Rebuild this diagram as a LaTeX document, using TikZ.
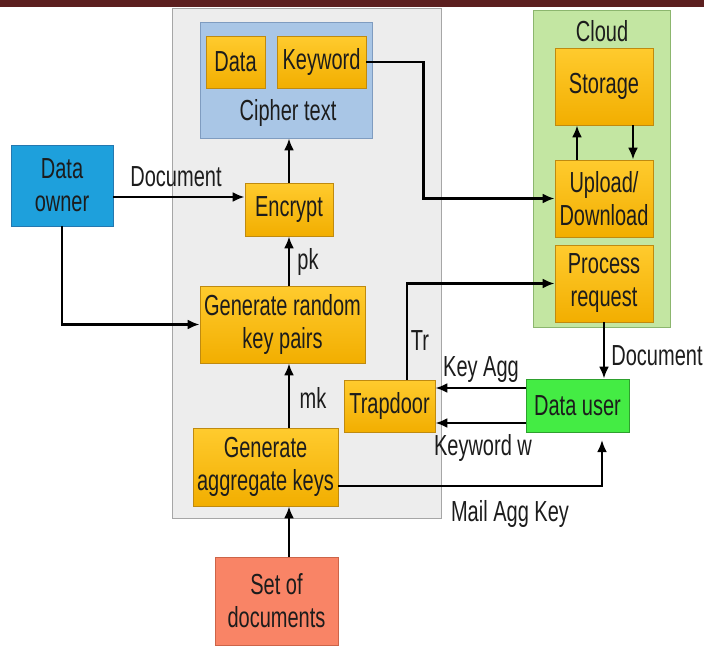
\documentclass[tikz,border=0pt]{standalone}
\usepackage{fontspec}
\setmainfont{Liberation Sans}[FakeStretch=0.69]
\usetikzlibrary{arrows.meta}

\definecolor{barcol}{HTML}{5C1F1F}
\definecolor{graybg}{HTML}{EDEDED}
\definecolor{grayline}{HTML}{A6A6A6}
\definecolor{cipherbg}{HTML}{A9C6E6}
\definecolor{cipherline}{HTML}{7F9CC0}
\definecolor{cloudbg}{HTML}{C3E6A2}
\definecolor{cloudline}{HTML}{8CB66E}
\definecolor{orangetop}{HTML}{FFCB2E}
\definecolor{orangebot}{HTML}{F2AE00}
\definecolor{orangeline}{HTML}{BF8A10}
\definecolor{ownerbg}{HTML}{1EA0DC}
\definecolor{ownerline}{HTML}{2478B0}
\definecolor{userbg}{HTML}{44EC44}
\definecolor{userline}{HTML}{2EA02E}
\definecolor{docbg}{HTML}{F98466}
\definecolor{docline}{HTML}{CC6448}
\definecolor{txtcol}{HTML}{1C1C1C}

\begin{document}
\begin{tikzpicture}[x=1pt,y=-1pt,
 font=\fontsize{29}{33}\selectfont,text=txtcol,
 every node/.style={inner sep=0pt,align=center},
 area/.style={line width=0.8pt},
 obox/.style={draw=orangeline,line width=0.8pt,top color=orangetop,bottom color=orangebot},
 arr/.style={-{Latex[length=12pt,width=10pt]},line width=2.4pt}]
\useasboundingbox (0,0) rectangle (704,646);
\fill[barcol] (0,0) rectangle (704,7);

% containers
\node[area,fill=graybg,draw=grayline,minimum width=269pt,minimum height=510pt] (keygen) at (306.5,263) {};
\node[area,fill=cloudbg,draw=cloudline,minimum width=137pt,minimum height=317pt] (cloud) at (601.5,168.5) {};
\node (cloudlbl) at (602,31) {Cloud};
\node[area,fill=cipherbg,draw=cipherline,minimum width=172pt,minimum height=116pt] (cipher) at (286,80) {};
\node (cipherlbl) at (288,113) {Cipher text};

% boxes
\node[obox,minimum width=59pt,minimum height=52pt] (data) at (235.5,62) {Data};
\node[obox,minimum width=89pt,minimum height=52pt] (keyword) at (321.5,62) {Keyword};
\node[obox,minimum width=88pt,minimum height=53pt] (encrypt) at (289,209.5) {Encrypt};
\node[obox,minimum width=165pt,minimum height=77pt] (genrand) at (282.5,324.5) {Generate random\\key pairs};
\node[obox,minimum width=145pt,minimum height=78pt] (genagg) at (265.5,467) {Generate\\aggregate keys};
\node[obox,minimum width=91pt,minimum height=52pt] (trapdoor) at (389.5,406) {Trapdoor};
\node[obox,minimum width=98pt,minimum height=77pt] (storage) at (604,86.5) {Storage};
\node[obox,minimum width=98pt,minimum height=77pt] (updown) at (604,198.5) {Upload/\\Download};
\node[obox,minimum width=98pt,minimum height=77pt] (process) at (604,283.5) {Process\\request};
\node[area,fill=ownerbg,draw=ownerline,minimum width=102pt,minimum height=81pt] (owner) at (62,185.5) {Data\\owner};
\node[area,fill=userbg,draw=userline,minimum width=103pt,minimum height=53pt] (user) at (577.5,405.5) {Data user};
\node[area,fill=docbg,draw=docline,minimum width=123pt,minimum height=88pt] (setdocs) at (276.5,601) {Set of\\documents};

% labels
\node (lbldoc) at (176,177) {Document};
\node (lblpk) at (308,262) {pk};
\node (lblmk) at (313,398) {mk};
\node (lbltr) at (420,341) {Tr};
\node (lblkeyagg) at (481,370) {Key Agg};
\node (lblkeyw) at (483,448) {Keyword w};
\node (lbldocout) at (657,356) {Document};
\node (lblmail) at (510,514) {Mail Agg Key};
\coordinate (mailend) at (602,440);

% connectors
\draw[arr] ([yshift=-11.5pt]owner.east) -- ([yshift=-11.5pt]owner.east -| encrypt.west);
\draw[arr] (owner.south) |- (genrand.west);
\draw[arr] (encrypt.north) -- (encrypt.north |- cipher.south);
\draw[arr] (genrand.north -| encrypt.south) -- (encrypt.south);
\draw[arr] (genagg.north -| encrypt.south) -- (genrand.south -| encrypt.south);
\draw[arr] (setdocs.north -| encrypt.south) -- (genagg.south -| encrypt.south);
\draw[arr] (keyword.east) -- ++(57,0) |- (updown.west);
\draw[arr] ([xshift=-27pt]updown.north) -- ([xshift=-27pt]storage.south);
\draw[arr] ([xshift=29pt]storage.south) -- ([xshift=29pt]updown.north);
\draw[arr] ([xshift=17.5pt]trapdoor.north) |- (process.west);
\draw[arr] (process.south) -- (process.south |- user.north);
\draw[arr] ([yshift=17.5pt]user.west) -- ([yshift=17.5pt]user.west -| trapdoor.east);
\draw[arr] ([yshift=-17.5pt]user.west) -- ([yshift=-17.5pt]user.west -| trapdoor.east);
\draw[arr] ([yshift=-19pt]genagg.east) -| (mailend);
\end{tikzpicture}
\end{document}
